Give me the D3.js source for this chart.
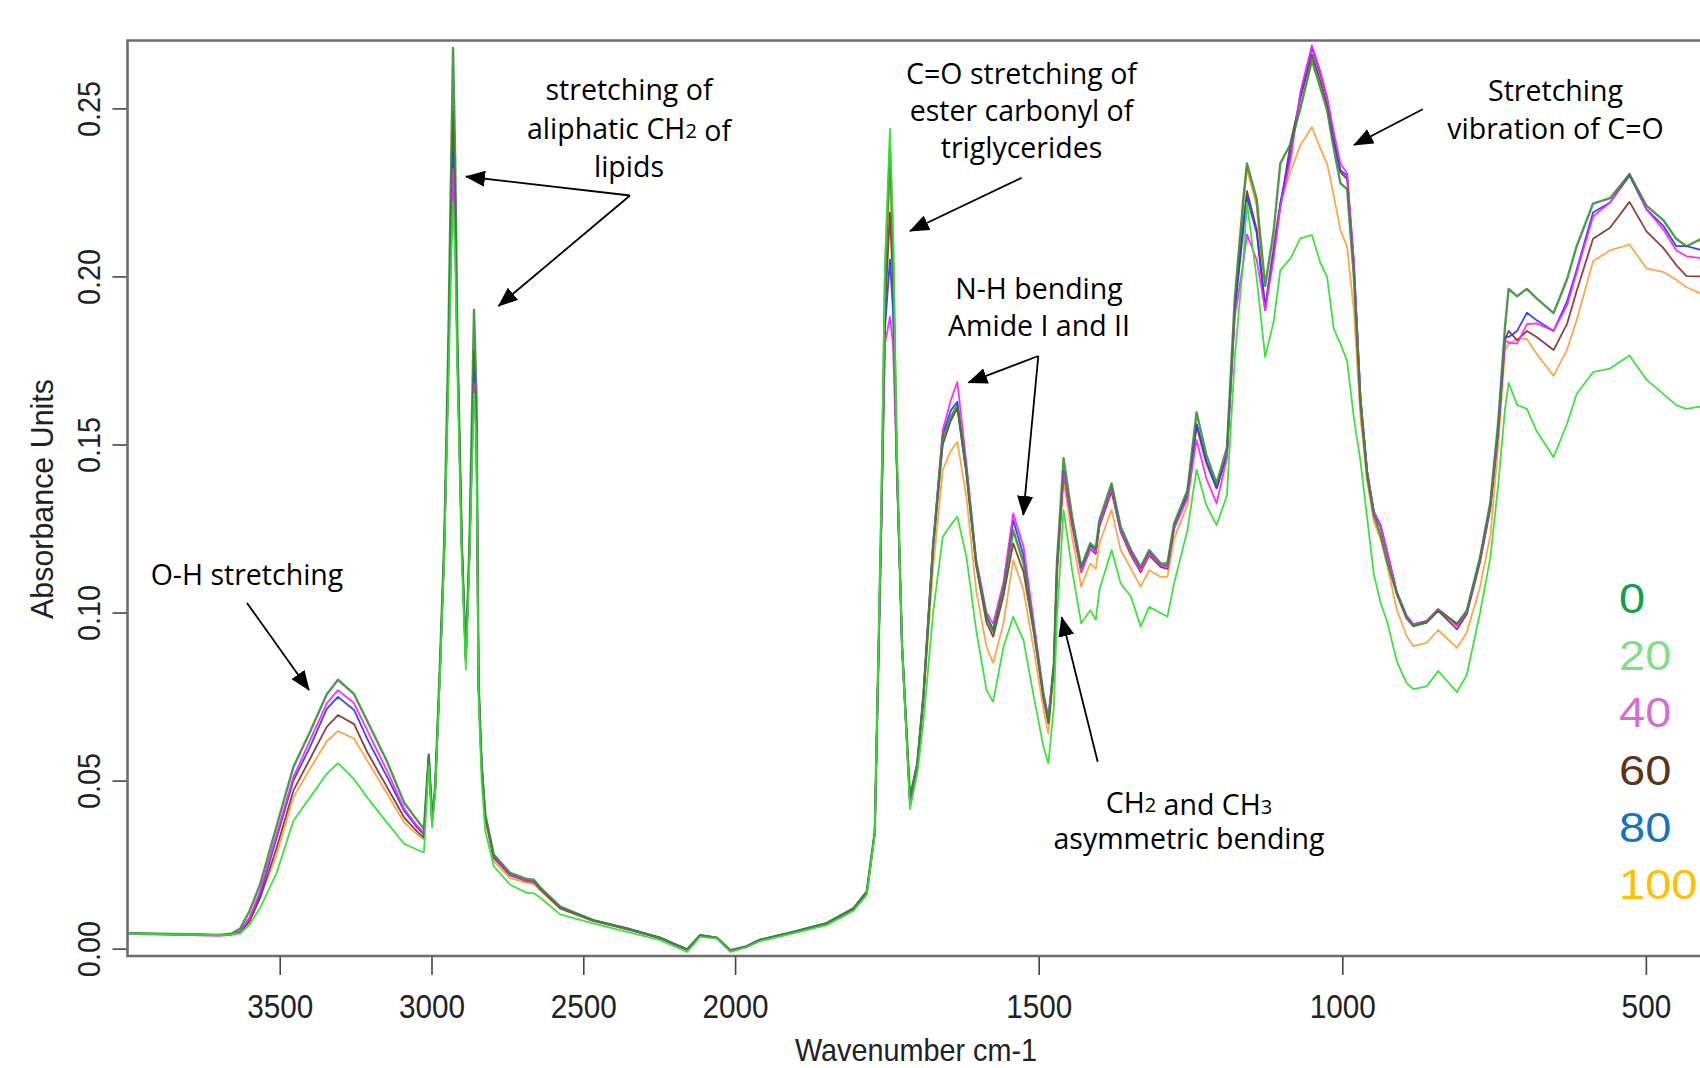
<!DOCTYPE html>
<html>
<head>
<meta charset="utf-8">
<script src="https://cdn.jsdelivr.net/npm/d3@7/dist/d3.min.js"></script>
<style>
html,body{margin:0;padding:0;background:#fff;}
svg{display:block;}
</style>
</head>
<body>
<svg id="chart" width="1700" height="1068"></svg>
<script>
// ---------------- DATA ----------------
const wavenumbers = [4000,3900,3800,3700,3660,3630,3600,3565,3510,3455,3400,3345,3308,3255,3212,3146,3090,3047,3025,3009,2998,2988,2972,2958,2945,2935,2929,2922,2915,2900,2887,2875,2860,2852,2845,2835,2823,2795,2741,2685,2663,2640,2576,2468,2356,2247,2158,2115,2060,2016,1981,1959,1904,1849,1805,1783,1770,1765,1759,1753,1745,1740,1734,1725,1712,1700,1690,1674,1658,1645,1634,1619,1603,1586,1575,1558,1542,1525,1508,1492,1484,1475,1470,1459,1445,1430,1415,1406,1400,1380,1365,1348,1332,1318,1299,1288,1277,1255,1240,1224,1207,1190,1177,1163,1157,1141,1127,1113,1102,1085,1069,1050,1036,1025,1014,1003,992,981,970,959,948,937,926,910,894,883,861,842,811,795,773,756,743,732,726,712,696,680,652,630,614,587,559,527,499,471,450,433,411,400];

const abs0 = [.0046,.0044,.0043,.0041,.0044,.0060,.0110,.0190,.0365,.0540,.0645,.0757,.0800,.0757,.0678,.0556,.0434,.0382,.0356,.0578,.0390,.0480,.0850,.1210,.1780,.2350,.2680,.2350,.1830,.1200,.0870,.1200,.1900,.1650,.0800,.0550,.0400,.0280,.0225,.0207,.0205,.0180,.0125,.0085,.0060,.0032,-.0003,.0040,.0032,-.0006,.0006,.0026,.0050,.0076,.0120,.0170,.0347,.0780,.1310,.2000,.2380,.2100,.1480,.0900,.0452,.0550,.0749,.1196,.1520,.1580,.1617,.1424,.1147,.0987,.0943,.1067,.1245,.1147,.0948,.0749,.0675,.0850,.1147,.1459,.1285,.1136,.1206,.1190,.1275,.1384,.1255,.1186,.1136,.1186,.1146,.1146,.1265,.1364,.1595,.1470,.1384,.1490,.1936,.2230,.2336,.2230,.1972,.2136,.2337,.2395,.2500,.2643,.2560,.2495,.2380,.2277,.2260,.2000,.1620,.1407,.1290,.1230,.1150,.1055,.0983,.0960,.0971,.1007,.0967,.1005,.1165,.1330,.1570,.1850,.1963,.1941,.1963,.1935,.1891,.1991,.2090,.2217,.2233,.2304,.2211,.2167,.2112,.2090,.2110,.2080];

const abs20 = [.0045,.0043,.0042,.0040,.0042,.0045,.0070,.0120,.0225,.0380,.0450,.0520,.0552,.0504,.0450,.0374,.0312,.0294,.0286,.0545,.0360,.0460,.0810,.1170,.1650,.2050,.2220,.2050,.1720,.1150,.0830,.1150,.1650,.1500,.0750,.0500,.0350,.0245,.0190,.0165,.0165,.0150,.0102,.0075,.0050,.0025,-.0010,.0035,.0030,-.0010,.0004,.0022,.0045,.0070,.0112,.0160,.0340,.0790,.1340,.2050,.2440,.2150,.1500,.0900,.0415,.0520,.0670,.0998,.1225,.1260,.1285,.1166,.0948,.0770,.0734,.0898,.0987,.0918,.0749,.0600,.0551,.0720,.0980,.1305,.1126,.0968,.1007,.0978,.1067,.1186,.1087,.1047,.0958,.1017,.0998,.0988,.1087,.1245,.1425,.1320,.1260,.1348,.1760,.2050,.2219,.1995,.1760,.1866,.2019,.2054,.2113,.2123,.2040,.1999,.1843,.1800,.1748,.1580,.1450,.1280,.1113,.1030,.0972,.0854,.0790,.0772,.0780,.0826,.0763,.0814,.1000,.1165,.1384,.1606,.1683,.1618,.1606,.1540,.1462,.1561,.1650,.1715,.1726,.1765,.1693,.1650,.1617,.1606,.1613,.1600];

const abs40 = [.0044,.0042,.0040,.0038,.0041,.0052,.0090,.0170,.0340,.0510,.0620,.0730,.0769,.0730,.0650,.0528,.0416,.0365,.0345,.0574,.0380,.0470,.0830,.1180,.1700,.2100,.2320,.2100,.1780,.1190,.0860,.1180,.1680,.1550,.0780,.0550,.0395,.0275,.0220,.0202,.0200,.0178,.0123,.0084,.0058,.0032,-.0002,.0040,.0033,-.0004,.0008,.0027,.0050,.0076,.0120,.0170,.0345,.0770,.1270,.1800,.1880,.1800,.1450,.0900,.0440,.0550,.0750,.1200,.1543,.1630,.1686,.1444,.1160,.1000,.0967,.1090,.1295,.1196,.0970,.0760,.0690,.0840,.1120,.1414,.1270,.1120,.1190,.1180,.1260,.1370,.1245,.1175,.1125,.1175,.1140,.1135,.1250,.1340,.1513,.1400,.1325,.1460,.1880,.2040,.2125,.2050,.1900,.2054,.2207,.2348,.2550,.2688,.2610,.2534,.2430,.2336,.2306,.2050,.1640,.1420,.1300,.1260,.1180,.1060,.0990,.0965,.0975,.1010,.0960,.1000,.1160,.1320,.1550,.1810,.1803,.1800,.1858,.1860,.1838,.1913,.2012,.2178,.2220,.2306,.2200,.2139,.2078,.2060,.2055,.2040];

const abs60 = [.0045,.0044,.0042,.0040,.0042,.0050,.0080,.0150,.0300,.0470,.0565,.0660,.0695,.0668,.0585,.0480,.0390,.0348,.0330,.0570,.0380,.0470,.0840,.1200,.1720,.2250,.2490,.2250,.1790,.1200,.0860,.1190,.1780,.1580,.0780,.0545,.0390,.0270,.0218,.0200,.0198,.0175,.0120,.0083,.0058,.0031,-.0003,.0039,.0032,-.0005,.0006,.0026,.0049,.0075,.0118,.0168,.0345,.0775,.1290,.1900,.2190,.1980,.1470,.0900,.0435,.0545,.0745,.1190,.1500,.1570,.1608,.1410,.1140,.0970,.0928,.1050,.1206,.1120,.0940,.0745,.0670,.0840,.1130,.1420,.1260,.1120,.1190,.1175,.1255,.1360,.1240,.1170,.1120,.1170,.1135,.1130,.1250,.1350,.1560,.1450,.1370,.1470,.1900,.2160,.2254,.2140,.1900,.2070,.2207,.2400,.2530,.2660,.2580,.2510,.2400,.2310,.2290,.2030,.1630,.1415,.1295,.1255,.1175,.1055,.0985,.0960,.0970,.1005,.0950,.0995,.1150,.1310,.1540,.1810,.1838,.1810,.1838,.1820,.1781,.1858,.1957,.2112,.2145,.2222,.2134,.2084,.2034,.2001,.2000,.1990];

const abs80 = [.0046,.0043,.0042,.0040,.0043,.0051,.0090,.0160,.0330,.0500,.0600,.0713,.0749,.0710,.0625,.0510,.0410,.0360,.0340,.0574,.0380,.0470,.0830,.1190,.1710,.2150,.2370,.2150,.1780,.1190,.0860,.1180,.1720,.1560,.0780,.0550,.0395,.0275,.0220,.0202,.0200,.0178,.0122,.0085,.0060,.0033,-.0002,.0040,.0032,-.0006,.0006,.0026,.0050,.0076,.0120,.0170,.0346,.0775,.1280,.1850,.2050,.1900,.1460,.0900,.0440,.0550,.0750,.1200,.1530,.1600,.1627,.1420,.1150,.0990,.0950,.1080,.1275,.1170,.0960,.0750,.0680,.0845,.1130,.1420,.1270,.1130,.1200,.1185,.1265,.1370,.1245,.1180,.1130,.1180,.1140,.1140,.1255,.1355,.1560,.1450,.1370,.1470,.1900,.2140,.2236,.2130,.1910,.2080,.2220,.2370,.2540,.2680,.2600,.2530,.2410,.2316,.2300,.2040,.1640,.1420,.1300,.1260,.1180,.1060,.0990,.0965,.0975,.1010,.0965,.1000,.1160,.1320,.1550,.1820,.1820,.1838,.1892,.1870,.1838,.1925,.2020,.2190,.2220,.2300,.2200,.2150,.2090,.2090,.2080,.2060];

const abs100 = [.0045,.0044,.0043,.0041,.0043,.0049,.0080,.0150,.0280,.0450,.0535,.0617,.0647,.0625,.0560,.0460,.0375,.0340,.0325,.0565,.0370,.0470,.0835,.1190,.1720,.2220,.2440,.2200,.1780,.1190,.0860,.1180,.1750,.1570,.0780,.0540,.0385,.0260,.0210,.0195,.0193,.0172,.0118,.0082,.0057,.0031,-.0004,.0039,.0031,-.0005,.0005,.0025,.0048,.0074,.0117,.0166,.0343,.0775,.1300,.1950,.2320,.2050,.1480,.0890,.0430,.0540,.0730,.1130,.1424,.1480,.1508,.1344,.1067,.0898,.0850,.0968,.1156,.1067,.0889,.0710,.0640,.0820,.1100,.1394,.1225,.1077,.1146,.1130,.1206,.1305,.1186,.1130,.1077,.1126,.1106,.1106,.1220,.1320,.1550,.1440,.1370,.1470,.1910,.2220,.2320,.2210,.1900,.2100,.2218,.2313,.2390,.2445,.2380,.2336,.2240,.2138,.2088,.1900,.1580,.1390,.1270,.1220,.1140,.1007,.0930,.0900,.0910,.0948,.0895,.0940,.1077,.1231,.1500,.1780,.1800,.1814,.1814,.1770,.1704,.1781,.1870,.2045,.2078,.2095,.2024,.2013,.1990,.1968,.1950,.1950];

const seriesLabels = ["0", "20", "40", "60", "80", "100"];
const xTicks = [3500, 3000, 2500, 2000, 1500, 1000, 500];
const yTicks = [0, 0.05, 0.10, 0.15, 0.20, 0.25];
const yTickLabels = ["0.00", "0.05", "0.10", "0.15", "0.20", "0.25"];

// ---------------- STYLE ----------------
const lineColors = {"0":"#2f8a2f","20":"#33e033","40":"#ff22ff","60":"#8b3535","80":"#2d3cff","100":"#ffa040"};
const legendColors = {"0":"#10a04c","20":"#7fdf86","40":"#d46fd2","60":"#5e3318","80":"#1672c2","100":"#ffc000"};
const seriesValues = {"0":abs0,"20":abs20,"40":abs40,"60":abs60,"80":abs80,"100":abs100};
const drawOrder = ["100","60","80","40","0","20"];

const svg = d3.select("#chart");
const W = 1700, H = 1068;
const plotL = 127.5, plotT = 40.5, plotB = 956;

const x = d3.scaleLinear().domain([4000, 2000, 400]).range([127.9, 735.1, 1706.6]);
const y = d3.scaleLinear().domain([-0.0022, 0.27]).range([956, 41.2]);

svg.append("rect").attr("width", W).attr("height", H).attr("fill", "#fff");

svg.append("defs").append("clipPath").attr("id", "plotclip")
  .append("rect").attr("x", plotL + 1).attr("y", plotT + 1).attr("width", W - plotL).attr("height", plotB - plotT - 2);

// spectra
const line = d3.line().x((d, i) => x(wavenumbers[i])).y(d => y(d));
const g = svg.append("g").attr("clip-path", "url(#plotclip)");
drawOrder.forEach(k => {
  g.append("path")
    .datum(seriesValues[k])
    .attr("d", line)
    .attr("fill", "none")
    .attr("stroke", lineColors[k])
    .attr("stroke-width", k === "0" ? 2.4 : 1.8)
    .attr("stroke-opacity", k === "0" ? 0.85 : 0.95)
    .attr("stroke-linejoin", "round");
});

// frame
svg.append("path")
  .attr("d", `M${W + 5},${plotT} H${plotL} V${plotB} H${W + 5}`)
  .attr("fill", "none").attr("stroke", "#6c6c6c").attr("stroke-width", 2.6);

// axes
const axisFont = "'Liberation Sans', Arial, sans-serif";
const yAxis = d3.axisLeft(y).tickValues(yTicks).tickSize(14).tickFormat((d, i) => yTickLabels[i]);
const yg = svg.append("g").attr("transform", `translate(${plotL - 1},0)`).call(yAxis);
yg.select(".domain").remove();
yg.selectAll(".tick line").attr("stroke", "#444").attr("stroke-width", 1.6);
yg.selectAll(".tick text").remove();
yg.selectAll(".tick").append("text")
  .attr("transform", "translate(-38,0) rotate(-90) scale(0.9,1)")
  .attr("text-anchor", "middle").attr("dominant-baseline", "central")
  .attr("fill", "#222").attr("font-family", axisFont).attr("font-size", 32)
  .text((d, i) => yTickLabels[i]);

const xAxis = d3.axisBottom(x).tickValues(xTicks).tickSize(18).tickFormat(d3.format("d"));
const xg = svg.append("g").attr("transform", `translate(0,${plotB + 1})`).call(xAxis);
xg.select(".domain").remove();
xg.selectAll(".tick line").attr("stroke", "#444").attr("stroke-width", 1.6);
xg.selectAll(".tick text").remove();
xg.selectAll(".tick").append("text")
  .attr("transform", "translate(0,50) scale(0.9,1)")
  .attr("text-anchor", "middle").attr("dominant-baseline", "central")
  .attr("fill", "#222").attr("font-family", axisFont).attr("font-size", 33)
  .text(d => d);

svg.append("text")
  .attr("transform", "translate(916,1049) scale(0.9,1)")
  .attr("text-anchor", "middle").attr("dominant-baseline", "central")
  .attr("fill", "#222").attr("font-family", axisFont).attr("font-size", 32)
  .text("Wavenumber cm-1");

svg.append("text")
  .attr("transform", "translate(42,499) rotate(-90) scale(0.95,1)")
  .attr("text-anchor", "middle").attr("dominant-baseline", "central")
  .attr("fill", "#222").attr("font-family", axisFont).attr("font-size", 32)
  .text("Absorbance Units");

// legend
seriesLabels.forEach((k, i) => {
  svg.append("text")
    .attr("transform", `translate(1619,${613 + i * 57.2}) scale(1.12,1)`)
    .attr("fill", legendColors[k]).attr("font-family", axisFont).attr("font-size", 42)
    .text(k);
});

// annotations
const annFont = "'Open Sans', 'Noto Sans', sans-serif";
svg.append("defs").append("marker")
  .attr("id", "ah").attr("markerUnits", "userSpaceOnUse")
  .attr("markerWidth", 20).attr("markerHeight", 16)
  .attr("refX", 19).attr("refY", 8).attr("orient", "auto")
  .append("path").attr("d", "M0,0 L20,8 L0,16 Z").attr("fill", "#000");

function labelLines(cx, cy0, dyLine, lines) {
  lines.forEach((ln, i) => {
    const t = svg.append("text")
      .attr("x", cx).attr("y", cy0 + i * dyLine)
      .attr("text-anchor", "middle").attr("dominant-baseline", "central")
      .attr("font-family", annFont).attr("font-size", 28.5).attr("fill", "#000");
    ln.forEach(p => {
      if (typeof p === "string") t.append("tspan").text(p);
      else { t.append("tspan").attr("font-size", 20).attr("dy", 2).text(p.sub); t.append("tspan").attr("dy", -2).text(""); }
    });
  });
}
function arrow(x1, y1, x2, y2) {
  svg.append("line").attr("x1", x1).attr("y1", y1).attr("x2", x2).attr("y2", y2)
    .attr("stroke", "#000").attr("stroke-width", 1.8).attr("marker-end", "url(#ah)");
}

labelLines(247, 574, 38, [["O-H stretching"]]);
arrow(247, 603, 309, 690);

labelLines(629, 89, 38.5, [["stretching of"], ["aliphatic CH", {sub: "2"}, " of"], ["lipids"]]);
arrow(630, 195.5, 466, 176.5);
arrow(630, 195.5, 498.5, 306);

labelLines(1021.5, 73, 37, [["C=O stretching of"], ["ester carbonyl of"], ["triglycerides"]]);
arrow(1021.7, 177.7, 910, 231);

labelLines(1039, 288, 37, [["N-H bending"], ["Amide I and II"]]);
arrow(1038.3, 356, 968.3, 382.7);
arrow(1038.3, 356, 1023.3, 515);

labelLines(1555.5, 90, 38.3, [["Stretching"], ["vibration of C=O"]]);
arrow(1422.7, 109.3, 1354, 145);

labelLines(1189, 801.7, 36.6, [["CH", {sub: "2"}, " and CH", {sub: "3"}], ["asymmetric bending"]]);
arrow(1097.7, 761.7, 1061.7, 617.3);
</script>
</body>
</html>
